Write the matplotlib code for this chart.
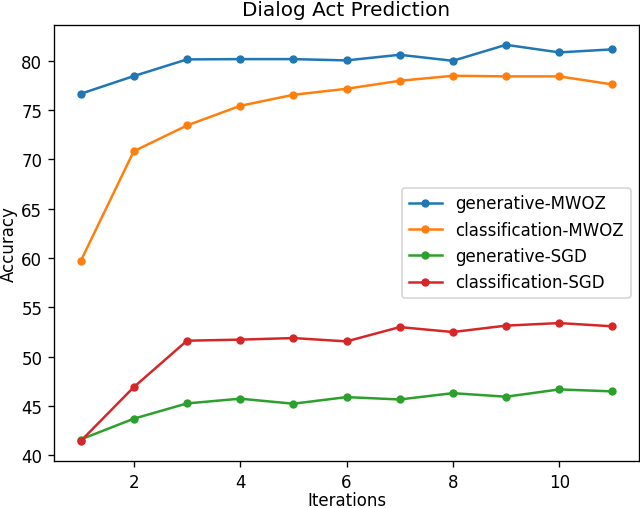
import matplotlib
matplotlib.use("Agg")
import matplotlib.pyplot as plt

iterations = [1, 2, 3, 4, 5, 6, 7, 8, 9, 10, 11]
generative_mwoz = [76.65, 78.45, 80.14, 80.17, 80.17, 80.04, 80.61, 80.0, 81.62, 80.85, 81.16]
classification_mwoz = [59.66, 70.83, 73.44, 75.43, 76.55, 77.16, 77.97, 78.48, 78.42, 78.42, 77.6]
generative_sgd = [41.59, 43.7, 45.25, 45.73, 45.22, 45.89, 45.65, 46.29, 45.93, 46.67, 46.47]
classification_sgd = [41.42, 46.9, 51.61, 51.72, 51.88, 51.54, 52.99, 52.49, 53.14, 53.40, 53.07]

series = [
    ("generative-MWOZ", generative_mwoz),
    ("classification-MWOZ", classification_mwoz),
    ("generative-SGD", generative_sgd),
    ("classification-SGD", classification_sgd),
]

dpi = 120
fig = plt.figure(figsize=(640 / dpi, 509 / dpi), dpi=dpi)
ax = fig.add_axes([54 / 640, 47 / 509, 585 / 640, 436 / 509])

for label, vals in series:
    ax.plot(iterations, vals, marker="o", markersize=4, label=label)

ax.set_title("Dialog Act Prediction")
ax.set_xlabel("Iterations", labelpad=0)
ax.set_ylabel("Accuracy", labelpad=2)
ax.set_yticks([40, 45, 50, 55, 60, 65, 70, 75, 80])
ax.set_xticks([2, 4, 6, 8, 10])
ax.legend(loc="center right")

fig.savefig("out.png", dpi=dpi)
